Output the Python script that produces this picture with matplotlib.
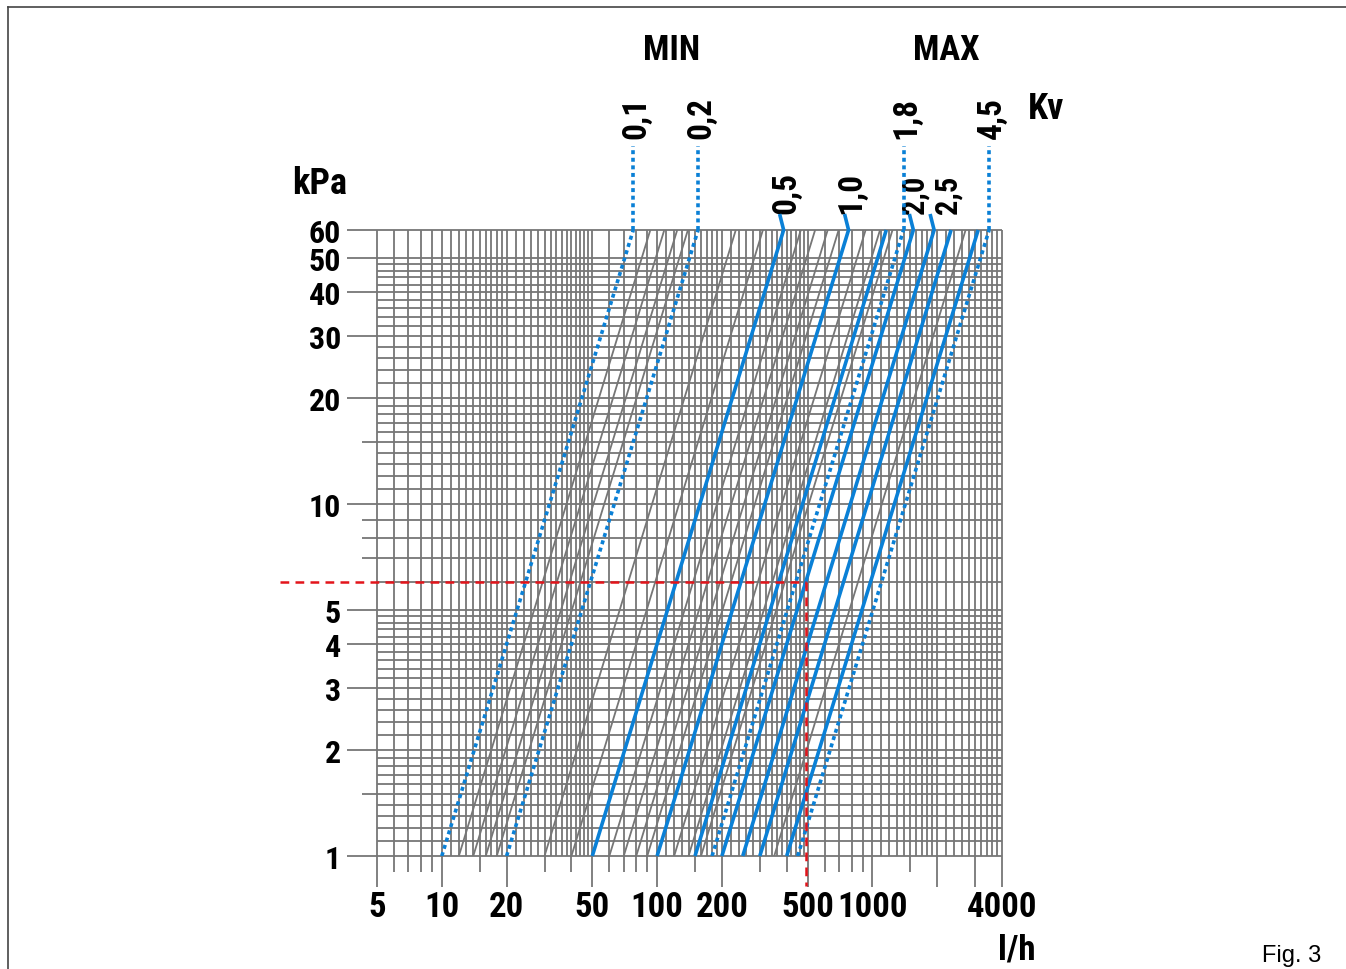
import numpy as np
import matplotlib
matplotlib.use("Agg")
import matplotlib.pyplot as plt
from matplotlib import font_manager as fm
from matplotlib.lines import Line2D

# ---------------- data ----------------
dp_bottom = 1.0    # kPa
dp_top = 60.0      # kPa

# blue solid Kv lines: flow (l/h) at 1 kPa and at 60 kPa
solid_kv = [0.5, 1.0, 1.5, 2.0, 2.5, 3.0, 4.0]
solid_q_bottom = [50, 100, 150, 200, 250, 300, 400]
solid_q_top = [387, 775, 1160, 1550, 1935, 2320, 3100]
solid_labels = ["0,5", "1,0", "", "2,0", "2,5", "", ""]
solid_label_shift = [3, 3, 0, 1, 13, 0, 0]   # px to the right of the line top
solid_label_size = [24, 24, 24, 22, 22, 24, 24]

# blue dotted Kv lines (MIN / MAX)
dotted_kv = [0.1, 0.2, 1.8, 4.5]
dotted_q_bottom = [10, 20, 180, 450]
dotted_q_top = [77.5, 155, 1395, 3485]
dotted_labels = ["0,1", "0,2", "1,8", "4,5"]

# thin gray Kv lines
gray_q_bottom = [12, 14, 16, 18, 30, 40, 60, 70, 80, 90, 120, 140, 160, 350]
gray_q_top = [93, 108, 124, 139, 232, 310, 465, 542, 620, 697, 930, 1085, 1240, 2710]

# axes ticks
x_labels = [5, 10, 20, 50, 100, 200, 500, 1000, 4000]
x_long_ticks = [5, 10, 20, 50, 100, 200, 500, 1000, 2000, 3000, 4000]
x_short_ticks = [6, 7, 8, 9, 15, 30, 40, 60, 70, 80, 90, 150, 300, 400,
                 600, 700, 800, 900, 1500]
y_labels = [1, 2, 3, 4, 5, 10, 20, 30, 40, 50, 60]
y_short_ticks = [1.5, 7, 8, 9, 15]

# grid mantissas per decade
grid_mant = [1.0, 1.1, 1.2, 1.3, 1.4, 1.5, 1.6, 1.7, 1.8, 1.9,
             2.0, 2.2, 2.4, 2.6, 2.8, 3.0, 3.2, 3.4, 3.6, 3.8,
             4.0, 4.2, 4.4, 4.6, 4.8, 5.0, 6.0, 7.0, 8.0, 9.0]
decades = [1, 10, 100, 1000]

# example reading
ex_q = 490
ex_dp = 6

# ---------------- style ----------------
W, H = 1346, 970
BLUE = "#0a80d6"
GRAY = "#767676"
RED = "#e3141b"

avail = {f.name for f in fm.fontManager.ttflist}
narrow = None
for cand in ["Liberation Sans Narrow", "Arial Narrow", "Roboto Condensed",
             "Open Sans Condensed", "DejaVu Sans Condensed"]:
    if cand in avail:
        narrow = cand
        break
if narrow is None:
    narrow = "Liberation Sans"
BOLD = dict(family=narrow, weight="bold", color="black")

fig = plt.figure(figsize=(W / 100, H / 100), dpi=100)
ax_l, ax_r, ax_t, ax_b = 377, 1002, 231, 857
ax = fig.add_axes([ax_l / W, 1 - ax_b / H, (ax_r - ax_l) / W, (ax_b - ax_t) / H])
ax.set_xscale("log")
ax.set_yscale("log")
xmin, xmax = 5, 4000
ax.set_xlim(xmin, xmax)
ax.set_ylim(dp_bottom, dp_top)
ax.axis("off")

xdec = (ax_r - ax_l) / np.log10(xmax / xmin)
ydec = (ax_b - ax_t) / np.log10(dp_top / dp_bottom)


def xd(px):
    return xmin * 10 ** ((px - ax_l) / xdec)


def yd(py):
    return dp_bottom * 10 ** ((ax_b - py) / ydec)


# grid
gx = [m * d for d in decades for m in grid_mant if xmin - 1e-9 <= m * d <= xmax + 1e-9]
gy = [m * d for d in [1, 10] for m in grid_mant if m * d <= dp_top + 1e-9]
for v in sorted(set(gx)):
    ax.plot([v, v], [dp_bottom, dp_top], color=GRAY, lw=1.3, zorder=1,
            solid_capstyle="butt", clip_on=False)
for v in sorted(set(gy)):
    ax.plot([xmin, xmax], [v, v], color=GRAY, lw=1.3, zorder=1,
            solid_capstyle="butt", clip_on=False)

# ticks below / left
for v in x_long_ticks:
    ax.plot([v, v], [dp_bottom, yd(888)], color=GRAY, lw=1.3, clip_on=False,
            solid_capstyle="butt")
for v in x_short_ticks:
    ax.plot([v, v], [dp_bottom, yd(873)], color=GRAY, lw=1.3, clip_on=False,
            solid_capstyle="butt")
for v in y_labels:
    ax.plot([xd(347), xmin], [v, v], color=GRAY, lw=1.3, clip_on=False,
            solid_capstyle="butt")
for v in y_short_ticks:
    ax.plot([xd(362), xmin], [v, v], color=GRAY, lw=1.3, clip_on=False,
            solid_capstyle="butt")

# gray Kv lines
for qb, qt in zip(gray_q_bottom, gray_q_top):
    ax.plot([qb, qt], [dp_bottom, dp_top], color=GRAY, lw=1.3, zorder=2)

# red example
ax.plot([xd(280), ex_q], [ex_dp, ex_dp], color=RED, lw=1.8, ls=(0, (3.5, 2.5)),
        clip_on=False, zorder=5)
ax.plot([ex_q, ex_q], [ex_dp, yd(887)], color=RED, lw=1.8, ls=(0, (3.5, 2.5)),
        clip_on=False, zorder=5)

# blue solid lines
for qb, qt, lab, sh, fs in zip(solid_q_bottom, solid_q_top, solid_labels,
                               solid_label_shift, solid_label_size):
    xs = [qb, qt]
    ys = [dp_bottom, dp_top]
    if lab:
        xs.append(qt * 10 ** (-4 / xdec))
        ys.append(yd(215))
    ax.plot(xs, ys, color=BLUE, lw=2.6, zorder=4, clip_on=False,
            solid_capstyle="butt", solid_joinstyle="miter")
    if lab:
        ax.text(qt * 10 ** (sh / xdec), yd(214), lab, rotation=90, ha="center",
                va="bottom", fontsize=fs, **BOLD)

# blue dotted lines
for qb, qt, lab in zip(dotted_q_bottom, dotted_q_top, dotted_labels):
    ax.plot([qb, qt], [dp_bottom, dp_top], color=BLUE, lw=2.6, zorder=4,
            ls=(0, (1.1, 1.0)), dash_capstyle="butt")
    ax.plot([qt, qt], [dp_top, yd(147)], color=BLUE, lw=2.6, zorder=4,
            ls=(0, (1.1, 1.0)), clip_on=False, dash_capstyle="butt")
    ax.text(qt * 10 ** (3 / xdec), yd(139), lab, rotation=90, ha="center",
            va="bottom", fontsize=24, **BOLD)

# tick labels
for v in x_labels:
    ax.text(v, yd(891), f"{v}", ha="center", va="top", fontsize=25, **BOLD)
for v in y_labels:
    ax.text(xd(341), v, f"{v}", ha="right", va="center_baseline", fontsize=23, **BOLD)


def ftext(x, y, s, **kw):
    fig.text(x / W, 1 - y / H, s, **kw)


ftext(320, 184, "kPa", ha="center", va="center", fontsize=26, **BOLD)
ftext(1017, 950, "l/h", ha="center", va="center", fontsize=25, **BOLD)
ftext(1028, 109, "Kv", ha="left", va="center", fontsize=26, **BOLD)
ftext(672, 50, "MIN", ha="center", va="center", fontsize=25, **BOLD)
ftext(946, 50, "MAX", ha="center", va="center", fontsize=25, **BOLD)
ftext(1292, 956, "Fig. 3", ha="center", va="center", fontsize=17,
      family="Liberation Sans", color="black")

# frame
fig.add_artist(Line2D([8 / W, 1], [1 - 8 / H, 1 - 8 / H], color="#444444", lw=1.2,
                      transform=fig.transFigure))
fig.add_artist(Line2D([8 / W, 8 / W], [1 - 8 / H, 0], color="#444444", lw=1.2,
                      transform=fig.transFigure))

fig.savefig("out.png", dpi=100, facecolor="white")
